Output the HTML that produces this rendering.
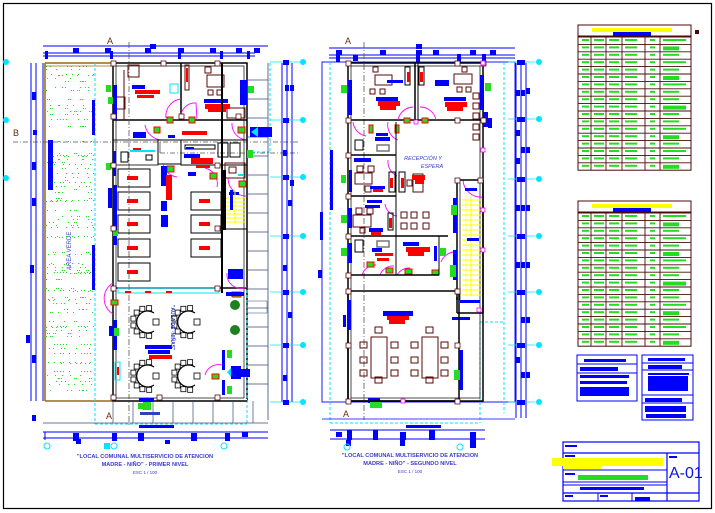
<!DOCTYPE html>
<html><head><meta charset="utf-8">
<style>
html,body{margin:0;padding:0;background:#fff;}
svg{display:block;}
text{font-family:"Liberation Sans",sans-serif;}
</style></head>
<body>
<svg id="s" width="715" height="513" viewBox="0 0 715 513" xmlns="http://www.w3.org/2000/svg">
<rect x="0" y="0" width="715" height="513" fill="#fff"/>
<rect x="3.5" y="3.5" width="708" height="505" fill="none" stroke="#000" stroke-width="1.2"/>
<g id="g"></g>
<text x="107" y="44" font-size="9" fill="#6b2a0a">A</text>
<text x="345" y="44" font-size="9" fill="#6b2a0a">A</text>
<text x="13" y="136" font-size="9" fill="#6b2a0a">B</text>
<text x="106" y="419" font-size="9" fill="#6b2a0a">A</text>
<text x="343" y="417" font-size="9" fill="#6b2a0a">A</text>
<text x="71" y="270" font-size="6" fill="#3040c0" transform="rotate(-90 71 270)">AREA VERDE</text>
<text x="206" y="340" font-size="5" fill="#3040c0" font-weight="bold" transform="rotate(90 206 305)">"AULA DE ·NIÑAS"</text>
<text x="423" y="160" font-size="5.5" fill="#3040c0" font-style="italic" text-anchor="middle">RECEPCIÓN Y</text>
<text x="432" y="168" font-size="5.5" fill="#3040c0" font-style="italic" text-anchor="middle">ESPERA</text>
<text x="145" y="458" font-size="5.6" fill="#3a3ad0" font-weight="bold" text-anchor="middle">"LOCAL COMUNAL MULTISERVICIO DE ATENCION</text>
<text x="145" y="466" font-size="5.6" fill="#3a3ad0" font-weight="bold" text-anchor="middle">MADRE - NIÑO" - PRIMER NIVEL</text>
<text x="145" y="474" font-size="4.5" fill="#3a3ad0" text-anchor="middle">ESC 1 / 100</text>
<text x="410" y="457" font-size="5.6" fill="#3a3ad0" font-weight="bold" text-anchor="middle">"LOCAL COMUNAL MULTISERVICIO DE ATENCION</text>
<text x="410" y="465" font-size="5.6" fill="#3a3ad0" font-weight="bold" text-anchor="middle">MADRE - NIÑO" - SEGUNDO NIVEL</text>
<text x="410" y="473" font-size="4.5" fill="#3a3ad0" text-anchor="middle">ESC 1 / 100</text>
<text x="669" y="478" font-size="16" fill="#1010e0" font-family="Liberation Sans">A-01</text>
</svg>
<script>
(function(){
var g=document.getElementById('g'),h='';
function R(x,y,w,hh,f,s,sw){h+='<rect x="'+x+'" y="'+y+'" width="'+w+'" height="'+hh+'" fill="'+(f||'none')+'"'+(s?' stroke="'+s+'" stroke-width="'+(sw||1)+'"':'')+'/>';}
function L(x1,y1,x2,y2,s,sw,d){h+='<line x1="'+x1+'" y1="'+y1+'" x2="'+x2+'" y2="'+y2+'" stroke="'+s+'" stroke-width="'+(sw||1)+'"'+(d?' stroke-dasharray="'+d+'"':'')+'/>';}
function C(x,y,r,f,s){h+='<circle cx="'+x+'" cy="'+y+'" r="'+r+'" fill="'+(f||'none')+'"'+(s?' stroke="'+s+'"':'')+'/>';}
var B='#0000ff',K='#000',BR='#5a0a0a',RD='#ff0000',GN='#22dd22',CY='#00e5ff',MG='#ff00ff',Y='#ffff00',GR='#3a4a7a';
L(43,46,268,46,B,1);L(43,53,255,53,B,1);L(43,56,255,56,B,1);
[[150,44,6,5],[73,48,6,5],[105,48,6,5],[145,48,6,5],[178,48,6,5],[210,48,6,5],[236,48,6,5],[254,48,6,5],[45,51,3,8],[110,51,3,8],[178,51,3,8],[220,51,3,8],[247,51,3,8]].forEach(function(a){R(a[0],a[1],a[2],a[3],B)});
L(31,63,31,401,B,1);L(36,63,36,401,B,1);L(43,63,43,401,B,1);
[[32,92,4,8],[33,130,4,5],[32,162,4,8],[32,198,4,8],[30,265,4,8],[26,335,4,8],[32,355,4,8],[32,415,4,6]].forEach(function(a){R(a[0],a[1],a[2],a[3],B)});
R(45,63,50,338,'#fff');
for(var i=0;i<520;i++){var x=46+((i*37)%48),y=66+((i*53+i*i*7)%333);R(x,y,1,1,GN);}
L(45,63,113,63,'#9a6a10',1.5);L(45,66,113,66,'#9a6a10',0.8);L(45,63,45,401,'#9a6a10',1.5);L(45,401,113,401,'#9a6a10',1.5);
L(95,63,95,424,CY,1,'3,2');
R(48,140,5,50,B);R(92,100,3,35,B);R(92,245,3,45,B);
R(113,63,134,338,'none',K,1.5);R(116,66,128,332,'none',K,0.7);
L(270,63,270,152,CY,1,'3,2');L(247,152,270,152,CY,1,'3,2');
L(95,424,247,424,CY,1,'3,2');L(247,290,247,424,CY,1,'3,2');
for(var yy=80;yy<400;yy+=19)L(248,yy,268,yy,GR,0.8);L(268,63,268,420,GR,0.8);
L(113,120,247,120,K,1.5);L(181,63,181,120,K,1.5);L(124,70,124,120,BR,1);
R(128,65,11,12,'none',BR);R(185,65,4,25,'none',BR);R(186,68,2,14,RD);
R(207,75,17,12,'none',BR);R(205,67,6,6,'none',BR);R(208,90,5,5,'none',BR);R(217,90,5,5,'none',BR);
R(227,108,18,10,'none',BR);R(116,97,9,12,'none',BR);
R(132,85,13,4,B);R(135,90,25,4,RD);R(137,95,17,3,RD);R(170,84,8,9,'none',CY);
R(204,99,24,4,B);R(205,104,25,5,RD);R(208,109,18,3,RD);
R(113,85,4,35,B);R(106,85,5,7,GN);R(240,80,7,25,B);R(248,86,6,7,GN);
h+='<path d="M166,118 A17,17 0 0 1 181,99 M181,118 A14,14 0 0 1 196,103 L197,120 M145,125 A18,18 0 0 0 163,140 M232,123 A16,16 0 0 0 247,140" stroke="'+MG+'" fill="none" stroke-width="0.9"/>';
R(167,117,6,6,GN,RD);R(189,117,6,6,GN,RD);R(154,127,6,6,GN,RD);R(238,127,7,6,GN,RD);
R(182,131,25,4,RD);R(133,132,13,6,B);R(168,135,7,3,B);
R(250,127,22,10,B);h+='<path d="M258,127 L251,132 L258,137 Z" fill="'+CY+'"/>';
L(13,142,300,142,'#555',0.8,'5,2,1,2');L(160,142,160,153,'#555',0.8);L(160,153,300,153,'#555',0.8,'5,2,1,2');
L(129,42,129,425,'#555',0.8,'6,2,1,2');
R(113,140,45,25,'none',K,0.8);R(158,140,23,24,'none',K,1);R(181,140,66,25,'none',K,1);
R(185,145,30,4,'none',K);R(186,147,8,2,B);R(218,143,10,14,'none',K);R(230,143,10,14,'none',K);
R(184,154,16,4,B);R(191,158,22,6,RD);R(196,165,14,3,RD);
R(121,152,7,10,'none',K);R(133,148,8,3,RD);R(146,155,6,5,'none',K);R(130,150,25,2,CY);
R(113,151,3,25,B);
R(108,97,5,7,GN);R(106,163,5,7,GN);R(247,150,6,8,GN);
R(225,163,20,15,'none',BR);R(229,167,7,6,'none',BR);R(238,174,5,2,CY);
h+='<path d="M163,163 A16,16 0 0 0 177,177 M205,168 A16,16 0 0 1 217,187 M228,178 A18,18 0 0 0 247,196" stroke="'+MG+'" fill="none" stroke-width="0.9"/>';
R(167,166,7,6,GN,RD);R(210,173,7,6,GN,RD);R(239,181,7,6,GN,RD);R(188,172,8,4,B);R(229,192,10,3,B);
[169,192,215,239,263].forEach(function(y){R(118,y,32,18,'none',K,1);R(127,y+7,11,4,RD);});
[192,215,239].forEach(function(y){R(191,y,30,18,'none',K,1);R(199,y+7,11,4,RD);});
R(161,166,6,20,B);R(166,175,6,25,RD);R(161,201,6,10,B);R(161,215,7,12,B);
R(113,185,4,60,B);R(108,188,4,20,B);R(113,230,5,6,GN);
for(var sy=198;sy<225;sy+=4)L(224,sy,246,sy,Y,0.9);L(235,190,235,225,Y,1);R(230,190,3,20,B);R(223,170,3,60,K);
R(228,269,15,10,B);
R(221,63,2,230,K);L(221,229,247,229,K,1);
L(113,288,247,288,K,1.5);
R(118,288,101,5,'none',CY);R(125,291,6,2,RD);R(145,291,6,2,RD);R(166,291,6,2,RD);
h+='<path d="M113,283 A18,18 0 0 0 113,314 M227,273 A14,14 0 0 0 247,287 M205,375 A14,14 0 0 1 222,365" stroke="'+MG+'" fill="none" stroke-width="0.9"/>';
R(111,300,7,5,GN,RD);R(232,292,9,5,GN,RD);R(212,374,7,5,GN,RD);R(226,292,18,4,B);
[[147,322],[188,322],[147,376],[188,376]].forEach(function(p){
 for(var a=0;a<8;a++){var t=Math.PI*(0.45+a*0.157);R(p[0]+Math.cos(t)*14-2.5,p[1]+Math.sin(t)*14-2.5,5,5,'#fff',K,0.8);}
 h+='<path d="M'+(p[0]+7)+','+(p[1]-9)+' A11,11 0 1 0 '+(p[0]+7)+','+(p[1]+9)+'" fill="#fff" stroke="#000" stroke-width="1.2"/>';
 R(p[0]+6,p[1]-3,6,6,'#fff',K,0.8);
});
R(145,345,27,4,B);R(148,350,22,4,B);R(149,355,23,4,RD);
R(113,320,4,30,B);R(109,326,4,10,B);R(114,328,5,8,GN);R(115,362,5,18,'none',CY);R(117,367,2,8,RD);
R(222,350,3,20,B);R(222,380,3,15,B);R(227,350,5,8,GN);R(227,386,5,8,GN);
R(231,366,10,13,B);R(238,369,12,8,B);h+='<path d="M231,368 L227,372 L231,377 Z" fill="'+CY+'"/>';
C(235,305,5,'#208020');C(235,330,5,'#208020');R(247,301,20,12,'none',GR,0.5);
R(113,399,134,3,'#fff');L(113,401,247,401,K,1.5);R(139,398,15,4,B);R(138,403,8,6,GN);R(143,402,8,8,GN);
for(var xx=113;xx<270;xx+=20)L(xx,401,xx,423,GR,0.7);L(43,423,268,423,GR,0.7);
R(140,412,20,3,'#3040c0');
L(43,432,268,432,B,1);L(43,438,268,438,B,1);L(45,432,45,440,B,1);
[[73,433,6,8],[112,433,5,8],[138,433,6,8],[191,433,6,8],[225,433,5,8],[242,432,6,5],[76,439,5,5],[165,440,5,4],[139,425,35,3]].forEach(function(a){R(a[0],a[1],a[2],a[3],B)});
C(47,446,3,'none',CY);C(114,446,3,'none',CY);C(224,446,3,'none',CY);R(104,443,6,6,CY);
[[113,63],[163,63],[217,63],[181,116],[113,116],[238,116],[113,165],[217,165],[113,228],[217,228],[113,288],[217,288],[113,397],[217,397],[159,397]].forEach(function(p){R(p[0]-2,p[1]-2,5,5,'#fff',BR,0.8);});
L(282,63,282,402,B,1);L(287,63,287,402,B,1);L(292,63,292,402,B,1);
[62,120,177,236,292,345,402].forEach(function(y){L(270,y,300,y,CY,0.8);C(303,y,3,CY);R(283,y-2,6,5,B);});
[[285,85],[290,85],[283,150],[288,200],[283,265],[288,312],[283,375],[290,180]].forEach(function(p){R(p[0],p[1],4,6,B)});
// PLAN 2
L(329,48,515,48,B,1);L(329,55,515,55,B,1);L(329,58,515,58,B,1);
[[416,44,6,5],[336,50,6,5],[380,50,6,5],[416,50,6,5],[433,50,6,5],[470,50,6,5],[490,50,6,5],[336,54,4,8],[416,54,4,8],[457,54,4,8],[482,54,4,8],[353,55,5,6]].forEach(function(a){R(a[0],a[1],a[2],a[3],B)});
R(322,62,193,340,'none',B,0.9);L(330,62,330,423,CY,1,'3,2');L(504,62,504,413,CY,1,'3,2');L(330,423,480,423,CY,1,'3,2');
L(480,322,480,423,CY,1,'3,2');L(480,322,504,322,CY,1,'3,2');L(322,419,515,419,B,0.8);
R(330,150,3,60,B);R(318,270,4,8,B);R(320,212,3,28,B);
R(348,63,135,338,'none',K,1.5);R(351,66,129,332,'none',K,0.7);
L(364,42,364,420,'#555',0.8,'6,2,1,2');
L(348,120,483,120,K,1.5);L(415,63,415,120,K,1.5);L(418,63,418,120,K,1);
R(375,75,17,10,'none',BR);R(373,67,5,5,'none',BR);R(370,89,5,5,'none',BR);R(380,89,5,5,'none',BR);
R(405,67,5,18,'none',K);R(407,72,3,10,RD);R(419,67,5,18,'none',K);R(420,72,3,10,RD);R(387,80,16,3,B);
R(376,97,22,4,B);R(378,101,22,5,RD);R(380,106,16,4,RD);
R(454,74,18,10,'none',BR);R(462,67,5,5,'none',BR);R(457,87,5,5,'none',BR);R(466,87,5,5,'none',BR);
R(444,97,22,4,B);R(445,102,22,5,RD);R(447,107,16,4,RD);R(435,80,14,6,B);
R(348,80,4,35,B);R(341,85,6,8,GN);R(480,75,4,35,B);R(485,83,6,8,GN);
h+='<path d="M398,120 A16,16 0 0 1 413,107 M420,107 A16,16 0 0 1 436,120 M353,122 A16,16 0 0 0 366,136 M388,122 A16,16 0 0 0 398,140 M388,160 A16,16 0 0 0 397,176 M385,204 A14,14 0 0 0 397,216 M463,180 A18,18 0 0 0 483,197 M441,262 A16,16 0 0 1 453,252 M362,275 A14,14 0 0 1 376,265 M380,275 A14,14 0 0 1 394,266 M397,275 A14,14 0 0 1 410,268" stroke="'+MG+'" fill="none" stroke-width="0.9"/>';
R(404,118,6,5,GN,RD);R(422,118,6,5,GN,RD);R(369,125,4,8,GN,RD);R(395,125,4,8,GN,RD);
R(432,270,7,5,GN,RD);R(367,262,7,5,GN,RD);R(386,268,7,5,GN,RD);R(405,269,7,5,GN,RD);
L(348,155,396,155,K,1.5);L(396,122,396,225,K,1);L(348,196,396,196,K,1.5);L(348,236,448,236,K,1.5);
L(396,225,396,275,K,1);L(439,236,439,275,K,1);L(348,275,439,275,K,1.5);
R(355,140,8,10,'none',K);R(377,145,12,6,'none','#777',1.5);R(376,133,12,3,B);R(375,137,15,4,B);
R(349,170,3,22,B);R(341,175,5,8,GN);R(354,158,17,4,B);
R(357,166,6,6,'none',BR);R(368,166,6,6,'none',BR);R(355,173,17,11,'none',BR);R(365,186,6,6,'none',BR);
R(389,172,6,20,'none',K);R(390,178,3,10,RD);R(399,172,6,20,'none',K);R(401,178,3,10,RD);
R(413,174,10,18,'none',BR);R(407,180,5,6,'none',BR);R(370,186,15,3,B);R(373,189,10,3,RD);
R(367,200,15,3,B);R(365,205,15,3,B);
R(356,208,6,6,'none',BR);R(367,208,6,6,'none',BR);R(353,215,18,12,'none',BR);R(360,228,5,5,'none',BR);
R(388,213,5,17,'none',K);R(389,218,3,10,RD);R(369,228,14,4,B);R(371,232,10,3,RD);
R(401,212,6,6,'none',BR);R(411,212,6,6,'none',BR);R(423,212,6,6,'none',BR);R(401,223,6,6,'none',BR);R(411,223,6,6,'none',BR);R(423,223,6,6,'none',BR);
R(355,240,8,12,'none',K);R(377,241,12,6,'none','#777',1.5);R(372,248,10,4,B);R(375,253,18,3,RD);R(377,258,12,3,RD);
R(403,242,16,4,B);R(406,247,24,5,RD);R(408,252,16,4,RD);R(434,246,3,15,B);R(440,248,6,8,GN);
R(348,208,4,20,B);R(341,215,6,8,GN);R(348,243,4,20,B);R(341,248,6,8,GN);
R(473,93,6,6,'none',BR);R(473,103,6,6,'none',BR);R(473,113,6,6,'none',BR);R(473,124,6,6,'none',BR);R(473,134,6,6,'none',BR);
R(412,175,13,5,RD);R(415,180,9,4,RD);R(483,112,5,15,B);R(488,118,4,10,B);
L(457,180,483,180,K,1.5);L(457,180,457,300,K,1.5);L(460,183,460,300,K,0.7);
for(var sy2=200;sy2<296;sy2+=5)L(462,sy2,482,sy2,Y,0.9);L(471,195,471,296,Y,1);L(466,195,466,296,Y,0.5);
R(465,188,12,3,B);R(467,238,12,3,B);R(453,198,4,35,B);R(451,205,6,10,GN);R(453,250,4,30,B);R(450,265,6,12,GN);
R(460,300,20,3,B);R(452,317,18,3,B);
L(457,297,457,313,K,1.5);L(457,313,483,313,K,1.5);L(483,180,483,313,K,1.5);
L(348,291,459,291,K,1.5);L(459,291,459,401,K,1.5);L(348,292,348,401,K,1.5);
R(383,311,30,5,B);R(387,316,22,4,RD);R(389,320,16,4,RD);
R(371,337,16,41,'none',BR);R(422,337,16,41,'none',BR);
[[378,330],[378,380],[429,330],[429,380]].forEach(function(p){R(p[0]-3,p[1]-3,7,6,'none',BR);});
[342,357,370].forEach(function(y){R(360,y,7,6,'none',BR);R(391,y,7,6,'none',BR);R(411,y,7,6,'none',BR);R(441,y,7,6,'none',BR);});
R(348,300,3,30,B);R(343,315,3,12,B);R(459,350,4,40,B);R(454,370,6,10,GN);
R(368,398,12,5,B);R(370,402,12,6,GN);L(348,401,459,401,K,1.5);
R(406,425,35,3,B);
L(330,430,485,430,B,1);L(330,439,485,439,B,1);
[[336,432,6,5],[347,430,5,10],[373,430,5,10],[400,432,6,8],[429,430,6,10],[470,432,6,8],[346,440,5,6],[400,440,5,6],[470,440,6,8]].forEach(function(a){R(a[0],a[1],a[2],a[3],B)});
C(347,447,3,'none',CY);C(460,447,3,'none',CY);
[[348,63],[348,120],[348,155],[348,196],[348,236],[348,275],[348,291],[348,345],[348,401],[457,401],[457,291],[457,345],[457,180],[483,63],[483,120],[457,63],[457,120],[480,180]].forEach(function(p){R(p[0]-2,p[1]-2,5,5,'#fff',BR,0.8);});
[[483,63],[483,150],[483,210],[483,250],[403,401],[416,122],[479,310]].forEach(function(p){R(p[0]-2,p[1]-2,4,4,'#fff',MG,0.8);});
L(516,63,516,418,B,1);L(521,63,521,418,B,1);L(526,63,526,418,B,1);
[62,119,179,236,292,345,402].forEach(function(y){L(508,y,535,y,CY,0.8);C(539,y,3,CY);R(517,y-2,8,5,B);});
[[516,90],[521,90],[526,88],[516,130],[521,147],[526,147],[516,158],[516,205],[521,205],[526,205],[516,262],[521,262],[526,262],[521,317],[526,317],[516,357],[521,372],[526,372]].forEach(function(p){R(p[0],p[1],4,6,B)});
C(6,62,3,CY);C(6,120,3,CY);C(6,178,3,CY);
// TABLES
function table(y0,rows,rh){
 R(578,y0,113,12+rows*rh,'none','#4a0a0a',1);
 R(592,y0+3,80,4,Y);R(613,y0+7,38,4,B);L(578,y0+11,691,y0+11,'#4a0a0a',1);
 var y=y0+12;
 for(var r=0;r<rows;r++){L(578,y,691,y,'#4a0a0a',0.9);
  R(582,y+2,7,2,GN);R(594,y+2,10,2,GN);R(609,y+2,10,2,GN);R(625,y+2,12,2,GN);R(650,y+2,5,2,GN);R(663,y+2,(r%3==0)?23:16,(r%4==1)?4:2,GN);
  y+=rh;}
 [591,606,622,645,660].forEach(function(x){L(x,y0+11,x,y,'#4a0a0a',0.9);});
}
table(25,18,7.4);table(201,18,7.4);
R(577,355,60,46,'none',B,1);L(577,364,637,364,B,1);L(577,373,637,373,B,1);R(584,359,42,3,B);R(580,367,38,4,B);R(580,375,49,3,B);R(580,381,47,3,B);R(580,387,49,9,B);
R(642,355,51,65,'none',B,1);L(642,363,693,363,B,1);L(642,370,693,370,B,1);L(642,395,693,395,B,1);L(642,403,693,403,B,1);
R(648,358,37,3,B);R(648,365,34,4,B);R(648,373,41,2,B);R(648,376,40,15,B);R(645,398,37,4,B);R(645,406,41,6,B);R(646,414,40,4,B);
R(563,442,136,59,'none',B,1.2);L(563,453,699,453,B,1.2);L(563,470,667,470,B,1);L(563,482,667,482,B,1);L(563,485,667,485,B,1);L(563,493,699,493,B,1.2);
L(667,453,667,501,B,1.2);R(552,458,111,8,Y);R(563,465,38,4,Y);R(578,475,70,5,GN);R(580,487,64,3,B);
R(565,445,12,2,B);R(565,455,10,2,B);R(565,473,10,2,B);R(669,456,8,2,B);R(565,495,8,2,B);R(600,495,8,2,B);R(635,497,15,4,B);
L(598,493,598,501,B,1);L(632,493,632,501,B,1);
R(695,30,4,4,'#4a0a0a');
g.innerHTML=h;
})();
</script>
</body></html>
